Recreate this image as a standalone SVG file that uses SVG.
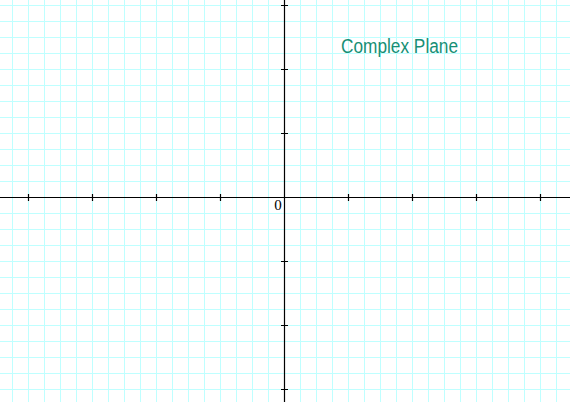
<svg xmlns="http://www.w3.org/2000/svg" width="570" height="402" viewBox="0 0 570 402">
<style>
.grid{stroke:#bfffff;stroke-width:1;fill:none}
.axis{stroke:#000;stroke-width:1.2;fill:none}
.tick{stroke:#000;stroke-width:1.2}
</style>
<rect width="570" height="402" fill="#fff"/>
<g id="grid">
<path class="grid" d="M12.5 0V402M28.5 0V402M44.5 0V402M60.5 0V402M76.5 0V402M92.5 0V402M108.5 0V402M124.5 0V402M140.5 0V402M156.5 0V402M172.5 0V402M188.5 0V402M204.5 0V402M220.5 0V402M236.5 0V402M252.5 0V402M268.5 0V402M300.5 0V402M316.5 0V402M332.5 0V402M348.5 0V402M364.5 0V402M380.5 0V402M396.5 0V402M412.5 0V402M428.5 0V402M444.5 0V402M460.5 0V402M476.5 0V402M492.5 0V402M508.5 0V402M524.5 0V402M540.5 0V402M556.5 0V402"/>
<path class="grid" d="M0 5.5H570M0 21.5H570M0 37.5H570M0 53.5H570M0 69.5H570M0 85.5H570M0 101.5H570M0 117.5H570M0 133.5H570M0 149.5H570M0 165.5H570M0 181.5H570M0 213.5H570M0 229.5H570M0 245.5H570M0 261.5H570M0 277.5H570M0 293.5H570M0 309.5H570M0 325.5H570M0 341.5H570M0 357.5H570M0 373.5H570M0 389.5H570"/>
</g>
<g id="axes">
<path class="axis" d="M0 197.5H570M284.5 0V402"/>
<path class="tick" d="M28.5 194V201M92.5 194V201M156.5 194V201M220.5 194V201M348.5 194V201M412.5 194V201M476.5 194V201M540.5 194V201M281 5.5H288M281 69.5H288M281 133.5H288M281 261.5H288M281 325.5H288M281 389.5H288"/>
</g>
<g id="labels">
<text x="278" y="209.5" font-family="Liberation Serif, serif" font-size="15" text-anchor="middle" fill="#000">0</text>
<text x="341" y="53" font-family="Liberation Sans, sans-serif" font-size="20" fill="#178f75" textLength="117" lengthAdjust="spacingAndGlyphs">Complex Plane</text>
</g>
</svg>
